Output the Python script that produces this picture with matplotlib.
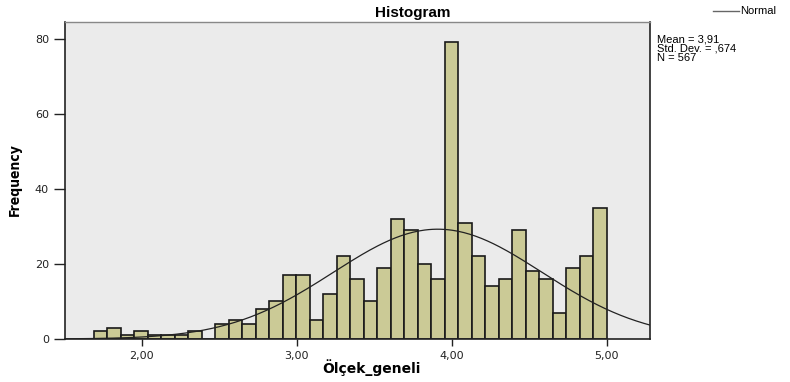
import numpy as np
import matplotlib
matplotlib.use("Agg")
import matplotlib.pyplot as plt

# bin counts (38 bins, 1.69 .. 5.00)
counts = [2, 3, 1, 2, 1, 1, 1, 2, 0, 4, 5, 4, 8, 10, 17, 17, 5, 12, 22, 16,
          10, 19, 32, 29, 20, 16, 79, 31, 22, 14, 16, 29, 18, 16, 7, 19, 22, 35]
bin_start = 1.69
bin_end = 5.00
mean = 3.91
std = 0.674
n = 567
x_ticks = [2, 3, 4, 5]
x_labels = ["2,00", "3,00", "4,00", "5,00"]
y_ticks = [0, 20, 40, 60, 80]

edges = np.linspace(bin_start, bin_end, len(counts) + 1)
width = edges[1] - edges[0]

fig = plt.figure(figsize=(7.9, 3.82), dpi=100)
ax = fig.add_axes([0.0823, 0.1126, 0.7405, 0.8298])
ax.set_facecolor("#ebebeb")

ax.bar(edges[:-1], counts, width=width, align="edge", color="#cbca96",
       edgecolor="#1a1a1a", linewidth=1.2, zorder=2)

# fitted normal curve
xs = np.linspace(1.5, 5.28, 300)
ys = n * width / (std * np.sqrt(2 * np.pi)) * np.exp(-0.5 * ((xs - mean) / std) ** 2)
ax.plot(xs, ys, color="#222222", linewidth=0.9, zorder=3)

ax.set_xlim(1.505, 5.28)
ax.set_ylim(0, 84.4)
ax.set_xticks(x_ticks)
ax.set_xticklabels(x_labels)
ax.set_yticks(y_ticks)
ax.tick_params(axis="both", labelsize=8, color="#222222", labelcolor="#222222")
ax.tick_params(axis="y", length=8, width=1)
ax.tick_params(axis="x", length=5, width=1)
for side in ["left", "bottom", "right"]:
    ax.spines[side].set_color("#222222")
    ax.spines[side].set_linewidth(1.2)
ax.spines["top"].set_color("#888888")
ax.spines["top"].set_linewidth(1)

fig.text(0.47, 0.037, "Ölçek_geneli", ha="center", va="center",
         fontsize=10, fontweight="bold")
fig.text(0.019, 0.53, "Frequency", ha="center", va="center", rotation=90,
         fontsize=10, fontweight="bold", fontstretch="condensed")
fig.text(0.522, 0.965, "Histogram", ha="center", va="center",
         fontsize=11, fontweight="bold",
         family=["Liberation Sans", "DejaVu Sans"])

# legend and stats
fig.add_artist(plt.Line2D([0.903, 0.935], [0.972, 0.972], color="#666666",
                          linewidth=1, transform=fig.transFigure))
fig.text(0.937, 0.972, "Normal", ha="left", va="center", fontsize=8,
         family=["Liberation Sans", "DejaVu Sans"])
fig.text(0.832, 0.91, "Mean = 3,91\nStd. Dev. = ,674\nN = 567", ha="left",
         va="top", fontsize=8, linespacing=0.9,
         family=["Liberation Sans", "DejaVu Sans"])

fig.savefig("out.png", dpi=100)
